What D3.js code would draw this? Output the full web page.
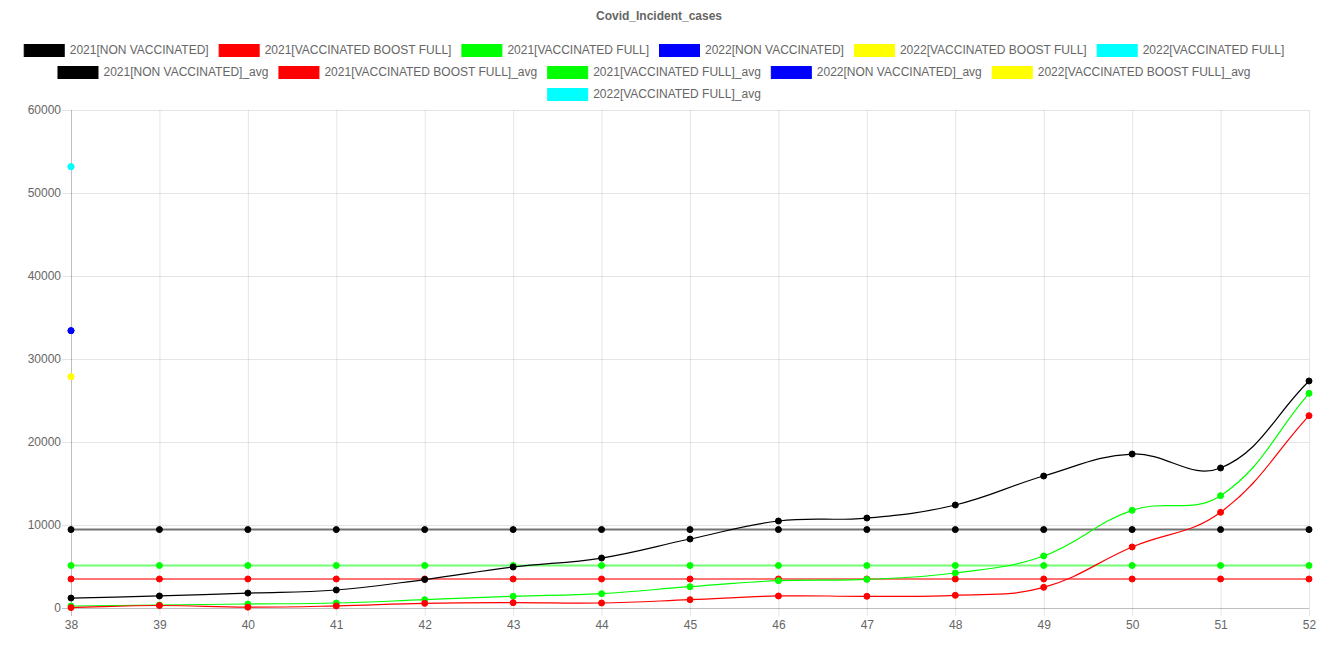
<!DOCTYPE html>
<html><head><meta charset="utf-8">
<script src="https://cdn.jsdelivr.net/npm/d3@7"></script>
<style>body{margin:0;background:#fff}svg{display:block}</style>
</head><body>
<svg id="c" width="1318" height="659"></svg>
<script>
const weeks = [38,39,40,41,42,43,44,45,46,47,48,49,50,51,52];
const nonVacc2021 = [1200,1450,1800,2170,3430,4940,6020,8310,10480,10840,12410,15900,18550,16870,27350];
const boost2021 = [50,300,100,250,560,640,600,1000,1450,1410,1530,2490,7350,11530,23170];
const full2021 = [240,360,480,600,1000,1410,1730,2570,3290,3450,4220,6270,11770,13530,25860];
const nonVacc2022 = [33410];
const boost2022 = [27870];
const full2022 = [53170];
const yTicks = [0,10000,20000,30000,40000,50000,60000];
const title = "Covid_Incident_cases";
const seriesNames = ["2021[NON VACCINATED]","2021[VACCINATED BOOST FULL]","2021[VACCINATED FULL]","2022[NON VACCINATED]","2022[VACCINATED BOOST FULL]","2022[VACCINATED FULL]"];
const seriesColors = ["#000000","#ff0000","#00ff00","#0000ff","#ffff00","#00ffff"];

const raw = [nonVacc2021, boost2021, full2021, nonVacc2022, boost2022, full2022];
const datasets = [];
raw.forEach((v,i)=>datasets.push({name:seriesNames[i], color:seriesColors[i], values:v, avg:false}));
raw.forEach((v,i)=>{ const m = d3.mean(v); datasets.push({name:seriesNames[i]+"_avg", color:seriesColors[i], values:v.map(()=>m), avg:true}); });

const svg = d3.select("#c");
const font = "Liberation Sans, Helvetica, Arial, sans-serif";
const L=71, R=1309, T=110, B=608;
const x = d3.scalePoint().domain(weeks).range([L,R]);
const y = d3.scaleLinear().domain([0,60000]).range([B,T]);

// title
svg.append("text").attr("x",659).attr("y",20).attr("text-anchor","middle")
  .attr("font-family",font).attr("font-size",12).attr("font-weight","bold").attr("fill","#666").text(title);

// legend
const measure = svg.append("text").attr("font-family",font).attr("font-size",12);
const items = datasets.map(d=>{ measure.text(d.name); return {d, w:40+6+measure.node().getComputedTextLength()}; });
measure.remove();
const rows=[]; let cur=[], cw=0; const maxW=1318-20;
items.forEach(it=>{ const add = it.w + (cur.length?10:0); if(cw+add>maxW && cur.length){rows.push(cur);cur=[];cw=0;} cw += it.w + (cur.length?10:0); cur.push(it);});
if(cur.length) rows.push(cur);
const lg = svg.append("g");
rows.forEach((row,ri)=>{
  const tw = d3.sum(row,r=>r.w) + 10*(row.length-1);
  let xx = (1318-tw)/2 - 5;
  const cy = 50 + ri*22;
  row.forEach(it=>{
    lg.append("rect").attr("x",xx+0.5).attr("y",cy-6+0.5).attr("width",40).attr("height",12)
      .attr("fill",it.d.color).attr("stroke",it.d.color).attr("stroke-width",1);
    lg.append("text").attr("x",xx+46).attr("y",cy+4).attr("font-family",font).attr("font-size",12).attr("fill","#666").text(it.d.name);
    xx += it.w + 10;
  });
});

// grid
const g = svg.append("g");
weeks.forEach((w,i)=>{
  g.append("line").attr("x1",x(w)+0.5).attr("x2",x(w)+0.5).attr("y1",T).attr("y2",B+8)
    .attr("stroke", i===0 ? "rgba(0,0,0,0.25)" : "rgba(0,0,0,0.1)");
});
yTicks.forEach((t,i)=>{
  g.append("line").attr("x1",L-9).attr("x2",R).attr("y1",y(t)+0.5).attr("y2",y(t)+0.5)
    .attr("stroke", i===0 ? "rgba(0,0,0,0.25)" : "rgba(0,0,0,0.1)");
});
const yAx = svg.append("g").attr("transform",`translate(${L-10},0)`).call(d3.axisLeft(y).tickValues(yTicks).tickSize(0).tickPadding(0).tickFormat(d3.format("d")));
yAx.select(".domain").remove();
yAx.selectAll("text").attr("font-family",font).attr("font-size",12).attr("fill","#666");
const xAx = svg.append("g").attr("transform",`translate(0,${B+10})`).call(d3.axisBottom(x).tickSize(0).tickPadding(0));
xAx.select(".domain").remove();
xAx.selectAll("text").attr("font-family",font).attr("font-size",12).attr("fill","#666").attr("dy","0.9em");

// chart.js-like spline
function splinePath(pts, t){
  const n=pts.length; if(n===0) return "";
  const clampX=v=>Math.max(L,Math.min(R,v)), clampY=v=>Math.max(T,Math.min(B,v));
  const cps = pts.map((p,i)=>{
    const pv = pts[i-1]||p, nx = pts[i+1]||p;
    const d01 = Math.hypot(p[0]-pv[0],p[1]-pv[1]), d12 = Math.hypot(nx[0]-p[0],nx[1]-p[1]);
    let s01 = d01/(d01+d12), s12 = d12/(d01+d12);
    if(isNaN(s01)) s01=0; if(isNaN(s12)) s12=0;
    const fa=t*s01, fb=t*s12;
    return {prev:[clampX(p[0]-fa*(nx[0]-pv[0])), clampY(p[1]-fa*(nx[1]-pv[1]))],
            next:[clampX(p[0]+fb*(nx[0]-pv[0])), clampY(p[1]+fb*(nx[1]-pv[1]))]};
  });
  let s = `M${pts[0][0]},${pts[0][1]}`;
  for(let i=1;i<n;i++) s += `C${cps[i-1].next[0]},${cps[i-1].next[1]},${cps[i].prev[0]},${cps[i].prev[1]},${pts[i][0]},${pts[i][1]}`;
  return s;
}

const plot = svg.append("g");
datasets.slice().reverse().forEach(d=>{
  const pts = d.values.map((v,i)=>[x(weeks[i]), y(v)]);
  const gg = plot.append("g");
  if(pts.length>1){
    gg.append("path").attr("d",splinePath(pts,0.4)).attr("fill","none").attr("stroke",d.color)
      .attr("stroke-width", d.avg?2:1.2).attr("stroke-opacity", d.avg?0.55:1);
  }
  gg.selectAll("circle").data(pts).join("circle").attr("cx",p=>p[0]).attr("cy",p=>p[1]).attr("r",3)
    .attr("fill",d.color).attr("stroke",d.color).attr("stroke-width",1);
});
</script>
</body></html>
